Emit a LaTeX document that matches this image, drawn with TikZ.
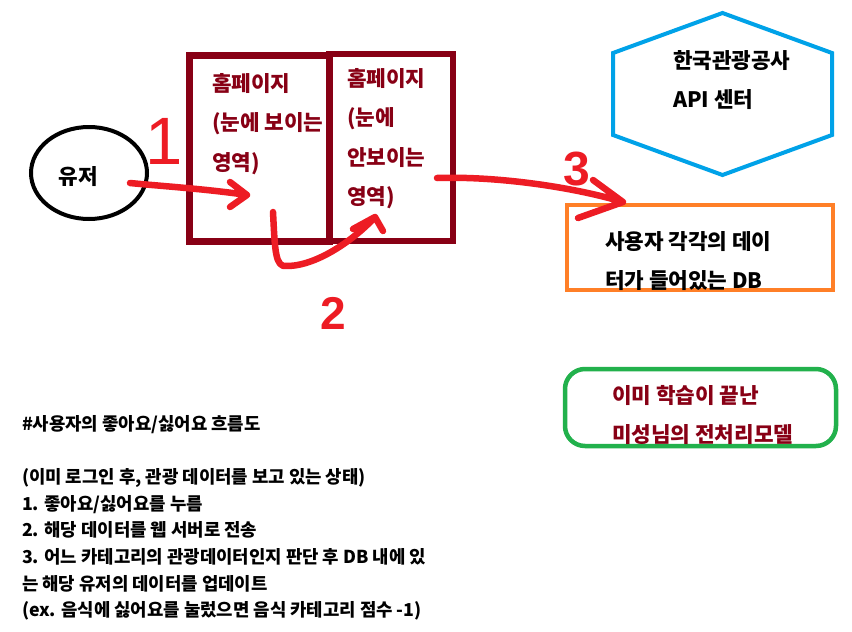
\documentclass[tikz,border=0pt]{standalone}
\usepackage{fontspec}
\newfontfamily\krfont{Noto Sans CJK KR}
\newfontfamily\penfont{Liberation Sans}
\usetikzlibrary{arrows.meta,positioning,calc,shapes.geometric}

\definecolor{pagered}{HTML}{880015}
\definecolor{apiblue}{HTML}{00A2E8}
\definecolor{dborange}{HTML}{FF7F27}
\definecolor{modelgreen}{HTML}{22B14C}
\definecolor{penred}{HTML}{ED1C24}

\begin{document}
\begin{tikzpicture}[
  x=1pt, y=-1pt,
  every node/.style={inner sep=0pt, outer sep=0pt},
  kr/.style={font=\krfont\bfseries\fontsize{21.3}{39.5}\selectfont, align=left, anchor=north west},
  notes/.style={font=\krfont\bfseries\fontsize{17.8}{26.7}\selectfont, align=left, anchor=north west},
  userell/.style={draw=black, line width=4pt, ellipse, minimum width=116pt, minimum height=92pt},
  pagebox/.style={draw=pagered, rectangle},
  hexline/.style={draw=apiblue, line width=4pt, line join=miter},
  dbbox/.style={draw=dborange, line width=4pt, rectangle},
  modelbox/.style={draw=modelgreen, line width=4.5pt, rectangle, rounded corners=20pt},
  pen/.style={draw=penred, line width=6.5pt, line cap=round, line join=round},
  digit/.style={text=penred, anchor=center}
]
\path[use as bounding box, fill=white] (0,0) rectangle (852,632);

% user
\node[userell] (user) at (89,173) {};
\node[kr, anchor=center] (usertext) at (78,177) {유저};

% the two halves of the web page
\node[pagebox, line width=7pt, minimum width=140pt, minimum height=186pt] (pageshow) at (259,148) {};
\node[pagebox, line width=6pt, minimum width=124pt, minimum height=187pt] (pagehide) at (391,147) {};
\node[kr, text=pagered] (showtext) at (212,73) {홈페이지\\(눈에 보이는\\영역)};
\node[kr, text=pagered] (hidetext) at (347,68) {홈페이지\\(눈에\\안보이는\\영역)};

% tour API (hexagon)
\node[minimum width=219pt, minimum height=82pt] (apicenter) at (722.5,94) {};
\draw[hexline] (apicenter.north west) -- ($(apicenter.north)+(0,-40)$) -- (apicenter.north east)
  -- (apicenter.south east) -- ($(apicenter.south)+(0,40)$) -- (apicenter.south west) -- cycle;
\node[kr] (apitext) at (673,50) {한국관광공사\\API 센터};

% user DB
\node[dbbox, minimum width=266pt, minimum height=85pt] (userdb) at (700,247.5) {};
\node[kr] (dbtext) at (605,231) {사용자 각각의 데이\\터가 들어있는 DB};

% trained model
\node[modelbox, minimum width=271pt, minimum height=77pt] (model) at (700.5,407.5) {};
\node[kr, text=pagered] (modeltext) at (612,385) {이미 학습이 끝난\\미성님의 전처리모델};

% hand drawn steps
\coordinate (a1s) at (130,183);
\coordinate (a1e) at (247,195);
\coordinate (a2s) at (273,212);
\coordinate (a2b) at (287,266);
\coordinate (a2e) at (375,217);
\coordinate (a3s) at (437,178);
\coordinate (a3e) at (623,202);
\draw[pen] (a1s) .. controls +(30,3) and +(-40,-6) .. (a1e) -- +(-17,-13) (a1e) -- +(-17,12);
\draw[pen] (a2s) .. controls +(2,38) and +(-12,2) .. (a2b) .. controls +(30,0) and +(-20,22) .. (a2e)
  -- +(-22,12) (a2e) -- +(8,14);
\draw[pen] (a3s) .. controls +(60,-2) and +(-50,-15) .. (a3e) -- +(-30,-22) (a3e) -- +(-45,16);
\node[digit, font=\penfont\fontsize{67}{67}\selectfont] (one) at (164,141) {1};
\node[digit, font=\penfont\bfseries\fontsize{46}{46}\selectfont] (two) at (333,313) {2};
\node[digit, font=\penfont\bfseries\fontsize{48}{48}\selectfont] (three) at (577,169) {3};

% flow description
\node[notes] (flownotes) at (22,415) {\#사용자의 좋아요/싫어요 흐름도\\[26.7pt]
  (이미 로그인 후, 관광 데이터를 보고 있는 상태)\\
  1. 좋아요/싫어요를 누름\\
  2. 해당 데이터를 웹 서버로 전송\\
  3. 어느 카테고리의 관광데이터인지 판단 후 DB 내에 있\\
  는 해당 유저의 데이터를 업데이트\\
  (ex. 음식에 싫어요를 눌렀으면 음식 카테고리 점수 -1)};

\end{tikzpicture}
\end{document}
